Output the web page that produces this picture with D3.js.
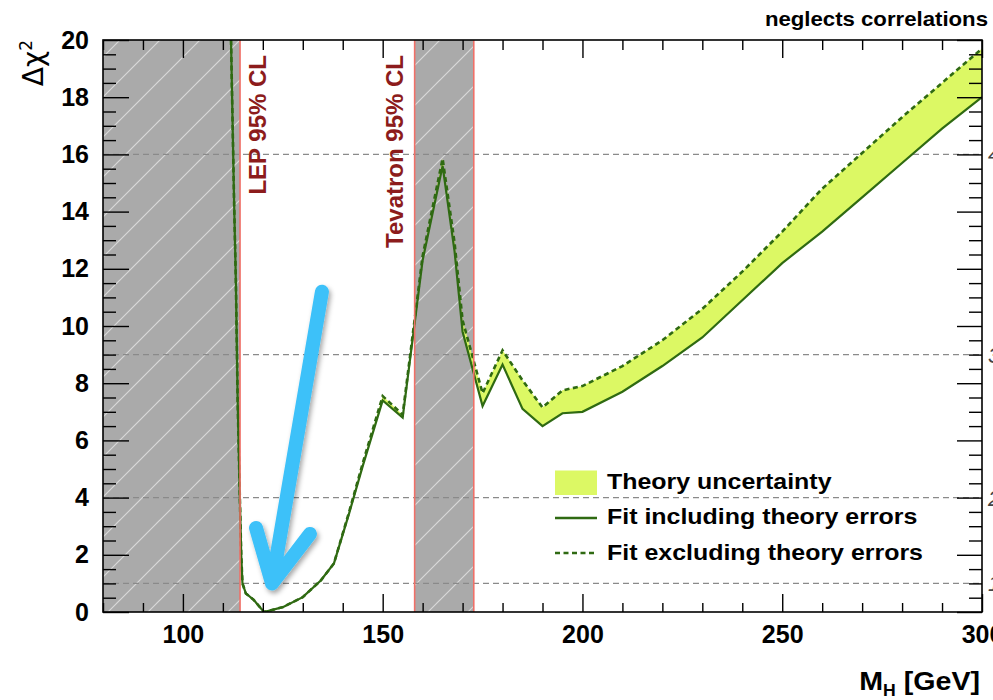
<!DOCTYPE html>
<html>
<head>
<meta charset="utf-8">
<script src="https://cdn.jsdelivr.net/npm/d3@7"></script>
<style>
  html, body { margin: 0; padding: 0; background: #fff; }
  svg { display: block; font-family: "Liberation Sans", Arial, Helvetica, sans-serif; }
</style>
</head>
<body>
<svg id="chart" width="993" height="700"></svg>
<script>
// Higgs mass scan: Delta chi^2 versus M_H
const massPoints = [112, 112.8, 113.25, 113.7, 114.25, 114.6, 114.9, 115.75, 117.75, 120.3,
  125, 130, 134.5, 137.8, 141.6, 145, 150, 155, 160, 165, 168, 170, 175, 180, 185, 190, 195, 200,
  210, 220, 230, 240, 250, 260, 270, 280, 290, 300];
const chi2WithTheory = [20.3, 14.4, 11.6, 7.4, 4.0, 2.0, 1.0, 0.65, 0.42, 0.0,
  0.17, 0.52, 1.1, 1.7, 3.45, 5.1, 7.4, 6.8, 12.3, 15.6, 12.6, 9.8, 7.2, 8.65, 7.1, 6.5, 6.95, 7.0,
  7.7, 8.6, 9.6, 10.9, 12.2, 13.3, 14.5, 15.7, 16.9, 18.0];
const chi2WithoutTheory = [20.3, 14.4, 11.6, 7.4, 4.0, 2.0, 1.0, 0.65, 0.42, 0.0,
  0.17, 0.52, 1.1, 1.7, 3.5, 5.2, 7.55, 6.9, 12.45, 15.85, 12.9, 10.2, 7.65, 9.15, 8.1, 7.15, 7.75, 7.9,
  8.6, 9.5, 10.6, 11.9, 13.3, 14.8, 16.05, 17.3, 18.5, 19.7];

// Excluded regions (GeV)
const lepLimit = 114.3;
const tevatronRange = [158, 172.8];
const excludedRanges = [[80, lepLimit], tevatronRange];
const exclusionLabels = ["LEP 95% CL", "Tevatron 95% CL"];

// Reference Delta chi^2 levels and their sigma names
const refLevels = [1, 4, 9, 16];
const sigmaLabels = ["1\u03c3", "2\u03c3", "3\u03c3", "4\u03c3"];

// Axis ticks
const xMajorTicks = [100, 150, 200, 250, 300];
const xMinorTicks = d3.range(80, 301, 10).filter(v => v % 50 !== 0);
const yMajorTicks = d3.range(0, 21, 2);
const yMinorTicks = d3.range(0, 20.01, 0.5).filter(v => v % 2 !== 0);

const legendLabels = ["Theory uncertainty", "Fit including theory errors", "Fit excluding theory errors"];

// Highlight arrow, in data units (GeV, Delta chi^2)
const arrowTail = [134.8, 11.2];
const arrowTip = [122.3, 1.0];
const arrowArmLeft = [118.3, 2.94];
const arrowArmRight = [131.8, 2.73];

const curveColor = "#2f6a12";
const bandColor = "#dcf864";
const greyBand = "#aaaaaa";
const limitRed = "#f07068";
const labelRed = "#8c1c1c";

const svg = d3.select("#chart");
const x = d3.scaleLinear().domain([80, 300]).range([103, 982]);
const y = d3.scaleLinear().domain([0, 20]).range([612, 40]);
const [x0, x1] = x.range();
const [yb, yt] = y.range();

const defs = svg.append("defs");
defs.append("clipPath").attr("id", "plotClip")
  .append("rect").attr("x", x0).attr("y", yt).attr("width", x1 - x0).attr("height", yb - yt);

const hatch = defs.append("pattern").attr("id", "hatch")
  .attr("patternUnits", "userSpaceOnUse").attr("width", 40).attr("height", 40);
hatch.append("rect").attr("width", 40).attr("height", 40).attr("fill", greyBand);
hatch.selectAll("line").data([[0, 40, 40, 0], [-10, 10, 10, -10], [30, 50, 50, 30]]).join("line")
  .attr("x1", d => d[0]).attr("y1", d => d[1]).attr("x2", d => d[2]).attr("y2", d => d[3])
  .attr("stroke", "rgba(255,255,255,0.55)").attr("stroke-width", 1.2);

const shadow = defs.append("filter").attr("id", "arrowShadow")
  .attr("x", "-50%").attr("y", "-50%").attr("width", "200%").attr("height", "200%");
shadow.append("feDropShadow").attr("dx", 2).attr("dy", 3).attr("stdDeviation", 2.5)
  .attr("flood-color", "#000").attr("flood-opacity", 0.35);

svg.append("rect").attr("width", 993).attr("height", 700).attr("fill", "#fff");

const plot = svg.append("g").attr("clip-path", "url(#plotClip)");

// Excluded mass regions
plot.selectAll("rect.excl").data(excludedRanges).join("rect").attr("class", "excl")
  .attr("x", d => x(d[0])).attr("width", d => x(d[1]) - x(d[0]))
  .attr("y", yt).attr("height", yb - yt).attr("fill", "url(#hatch)");

// Dashed reference levels
plot.selectAll("line.ref").data(refLevels).join("line").attr("class", "ref")
  .attr("x1", x0).attr("x2", x1).attr("y1", d => y(d)).attr("y2", d => y(d))
  .attr("stroke", "#8a8a8a").attr("stroke-width", 1.1).attr("stroke-dasharray", "6,4");

const pts = massPoints.map((m, i) => ({ m, a: chi2WithTheory[i], b: chi2WithoutTheory[i] }));

// Theory uncertainty band between the two fits
plot.append("path").datum(pts)
  .attr("d", d3.area().x(d => x(d.m)).y0(d => y(d.a)).y1(d => y(d.b)))
  .attr("fill", bandColor);

plot.append("path").datum(pts)
  .attr("d", d3.line().x(d => x(d.m)).y(d => y(d.b)))
  .attr("fill", "none").attr("stroke", curveColor).attr("stroke-width", 2.6)
  .attr("stroke-dasharray", "5,3.5");

plot.append("path").datum(pts)
  .attr("d", d3.line().x(d => x(d.m)).y(d => y(d.a)))
  .attr("fill", "none").attr("stroke", curveColor).attr("stroke-width", 2.2);

// Red edges of excluded regions
const edges = [lepLimit, tevatronRange[0], tevatronRange[1]];
plot.selectAll("line.edge").data(edges).join("line").attr("class", "edge")
  .attr("x1", d => x(d)).attr("x2", d => x(d)).attr("y1", yt).attr("y2", yb)
  .attr("stroke", limitRed).attr("stroke-width", 1.6);

// Axes with inward ticks
function styleAxis(g) {
  g.select(".domain").remove();
  g.selectAll(".tick line").attr("stroke", "#000").attr("stroke-width", 1.4);
  g.selectAll("text").attr("fill", "#000").attr("font-size", 25).attr("font-weight", "bold")
    .attr("font-family", "'Liberation Sans', Arial, sans-serif");
  g.attr("font-size", null).attr("font-family", null);
}
svg.append("g").attr("transform", `translate(0,${yb})`)
  .call(d3.axisBottom(x).tickValues(xMajorTicks).tickSize(-18).tickSizeOuter(0).tickPadding(13).tickFormat(d3.format("d")))
  .call(styleAxis);
svg.append("g").attr("transform", `translate(0,${yb})`)
  .call(d3.axisBottom(x).tickValues(xMinorTicks).tickSize(-9).tickSizeOuter(0).tickFormat(""))
  .call(styleAxis);
svg.append("g").attr("transform", `translate(0,${yt})`)
  .call(d3.axisTop(x).tickValues(xMajorTicks).tickSize(-18).tickSizeOuter(0).tickFormat(""))
  .call(styleAxis);
svg.append("g").attr("transform", `translate(0,${yt})`)
  .call(d3.axisTop(x).tickValues(xMinorTicks).tickSize(-10).tickSizeOuter(0).tickFormat(""))
  .call(styleAxis);
svg.append("g").attr("transform", `translate(${x0},0)`)
  .call(d3.axisLeft(y).tickValues(yMajorTicks).tickSize(-26).tickSizeOuter(0).tickPadding(14).tickFormat(d3.format("d")))
  .call(styleAxis);
svg.append("g").attr("transform", `translate(${x0},0)`)
  .call(d3.axisLeft(y).tickValues(yMinorTicks).tickSize(-13).tickSizeOuter(0).tickFormat(""))
  .call(styleAxis);
svg.append("g").attr("transform", `translate(${x1},0)`)
  .call(d3.axisRight(y).tickValues(yMajorTicks).tickSize(-25).tickSizeOuter(0).tickFormat(""))
  .call(styleAxis);
svg.append("g").attr("transform", `translate(${x1},0)`)
  .call(d3.axisRight(y).tickValues(yMinorTicks).tickSize(-13).tickSizeOuter(0).tickFormat(""))
  .call(styleAxis);

svg.append("rect").attr("x", x0).attr("y", yt).attr("width", x1 - x0).attr("height", yb - yt)
  .attr("fill", "none").attr("stroke", "#000").attr("stroke-width", 1.6);

// Sigma names beside the reference levels (right margin)
svg.selectAll("text.sigma").data(refLevels).join("text").attr("class", "sigma")
  .attr("x", x1 + 6).attr("y", d => y(d) + 8)
  .attr("font-size", 22).attr("font-style", "italic").attr("fill", "#444")
  .text((d, i) => sigmaLabels[i]);

// Vertical labels of the excluded regions
const exclLabelX = [x(lepLimit) + 26, x(tevatronRange[0]) - 12];
svg.selectAll("text.excl").data(exclusionLabels).join("text").attr("class", "excl")
  .attr("transform", (d, i) => `translate(${exclLabelX[i]},${yt + 15}) rotate(-90)`)
  .attr("text-anchor", "end").attr("font-size", 24).attr("font-weight", "bold")
  .attr("fill", labelRed).text(d => d);

// Legend
const legend = svg.append("g").attr("transform", "translate(555,470)");
legend.append("rect").attr("x", 0).attr("y", 0.5).attr("width", 42).attr("height", 24.5).attr("fill", bandColor);
legend.append("line").attr("x1", 0).attr("x2", 42).attr("y1", 48).attr("y2", 48)
  .attr("stroke", curveColor).attr("stroke-width", 2.4);
legend.append("line").attr("x1", 0).attr("x2", 42).attr("y1", 83).attr("y2", 83)
  .attr("stroke", curveColor).attr("stroke-width", 2.6).attr("stroke-dasharray", "5,3.5");
const legendBaselines = [19, 54, 90];
legend.selectAll("g.entry").data(legendLabels).join("g").attr("class", "entry")
  .attr("transform", (d, i) => `translate(52,${legendBaselines[i]}) scale(1.085,1)`)
  .append("text").attr("font-size", 23).attr("font-weight", "bold").attr("fill", "#000").text(d => d);

// Highlight arrow pointing at the minimum
const P = p => [x(p[0]), y(p[1])];
const arrowPath = d3.path();
arrowPath.moveTo(...P(arrowTail)); arrowPath.lineTo(...P(arrowTip));
arrowPath.moveTo(...P(arrowArmLeft)); arrowPath.lineTo(...P(arrowTip)); arrowPath.lineTo(...P(arrowArmRight));
svg.append("path").attr("d", arrowPath.toString())
  .attr("fill", "none").attr("stroke", "#3ec1f9").attr("stroke-width", 14)
  .attr("stroke-linecap", "round").attr("stroke-linejoin", "round")
  .attr("filter", "url(#arrowShadow)");

// Titles
svg.append("g").attr("transform", "translate(988,26) scale(1.11,1)")
  .append("text").attr("text-anchor", "end").attr("font-size", 20).attr("font-weight", "bold")
  .attr("fill", "#000").text("neglects correlations");

const xTitle = svg.append("g").attr("transform", "translate(980,690) scale(1.1,1)")
  .append("text").attr("text-anchor", "end").attr("font-size", 26).attr("font-weight", "bold").attr("fill", "#000");
xTitle.append("tspan").text("M");
xTitle.append("tspan").attr("font-size", 16).attr("dy", 6).text("H");
xTitle.append("tspan").attr("dy", -6).text(" [GeV]");

svg.append("text").attr("transform", `translate(43,${yt}) rotate(-90)`)
  .attr("text-anchor", "end").attr("font-size", 28).attr("fill", "#000")
  .attr("font-family", "'DejaVu Sans', 'Liberation Sans', sans-serif")
  .call(t => {
    t.append("tspan").text("\u0394\u03c7");
    t.append("tspan").attr("font-size", 17).attr("dy", -11).text("2");
  });
</script>
</body>
</html>
